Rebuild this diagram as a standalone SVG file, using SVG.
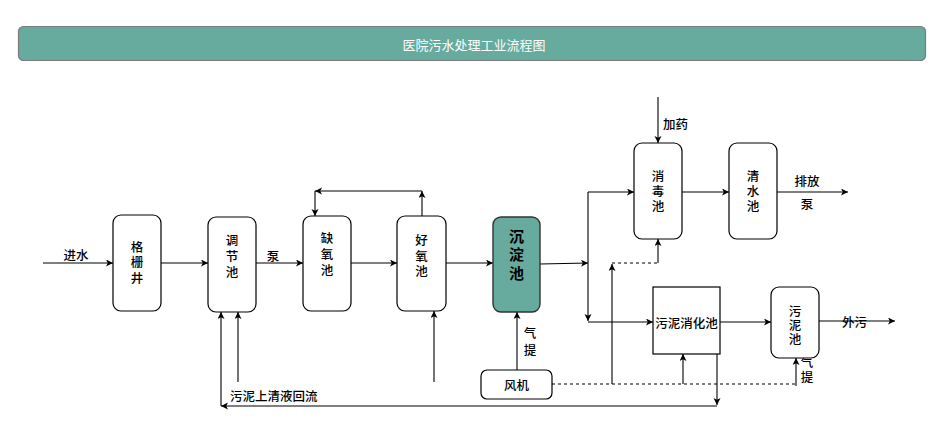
<svg xmlns="http://www.w3.org/2000/svg" width="948" height="443" viewBox="0 0 948 443">
<defs>
<marker id="arr" markerUnits="userSpaceOnUse" markerWidth="8" markerHeight="8" refX="7" refY="3.5" orient="auto">
<path d="M0,0 L7,3.5 L0,7 L1.8,3.5 z" fill="#000"/>
</marker>
</defs>
<style>
.node{fill:#fff;stroke:#000;stroke-width:1.2}
.t{font-family:"Noto Sans CJK SC","Noto Sans",sans-serif;font-size:12.5px;fill:#000;text-anchor:middle;dominant-baseline:central;font-weight:500}
.l{font-family:"Noto Sans CJK SC","Noto Sans",sans-serif;font-size:12.5px;fill:#000;dominant-baseline:central;font-weight:500}
.v{font-family:"Noto Sans CJK SC","Noto Sans",sans-serif;font-size:12.5px;fill:#000;text-anchor:middle;writing-mode:vertical-rl;font-weight:500;letter-spacing:3px}
.e{fill:none;stroke:#000;stroke-width:1.1}
.ea{fill:none;stroke:#000;stroke-width:1.1;marker-end:url(#arr)}
.d{fill:none;stroke:#000;stroke-width:1.1;stroke-dasharray:3 3}
</style>
<rect width="948" height="443" fill="#fff"/>
<g id="title">
<rect x="18.5" y="26.5" width="907" height="34" rx="5" fill="#67AB9F" stroke="#7a7a7a" stroke-width="1.2"/>
<text x="474" y="44" class="t" style="fill:#fff;font-weight:400;font-size:13px">医院污水处理工业流程图</text>
</g>
<g id="connectors">
<path class="ea" d="M43,263 H113"/>
<path class="ea" d="M161,263 H208"/>
<path class="ea" d="M256,263 H303"/>
<path class="ea" d="M351,263 H397"/>
<path class="ea" d="M446,263 H493"/>
<path class="ea" d="M540,264 L588,263"/>
<path class="ea" d="M588,192 V321"/>
<path class="ea" d="M588,192 H634"/>
<path class="ea" d="M588,322 H653"/>
<path class="ea" d="M658,97 V143"/>
<path class="ea" d="M682,192 H729"/>
<path class="ea" d="M777,192 H848"/>
<path class="ea" d="M720,322 H771"/>
<path class="ea" d="M819,321 H895"/>
<path class="d" d="M612,263 H658"/>
<path class="ea" d="M658,263 V239"/>
<path class="ea" d="M612,384 V264"/>
<path class="d" d="M552,384 H796"/>
<path class="ea" d="M683,384 V354"/>
<path class="ea" d="M796,386 V358"/>
<path class="ea" d="M717,354 V405"/>
<path class="ea" d="M717,406 H221"/>
<path class="ea" d="M221,406 V312"/>
<path class="ea" d="M238,382 V312"/>
<path class="ea" d="M434,382 V311"/>
<path class="ea" d="M517,370 V312"/>
<path class="ea" d="M422,216 V191"/>
<path class="ea" d="M422,191 H315"/>
<path class="ea" d="M315,191 V216"/>
</g>
<g id="labels">
<text class="t" x="76" y="254">进水</text>
<text class="t" x="273" y="255">泵</text>
<text class="l" x="663" y="123">加药</text>
<text class="t" x="807" y="180">排放</text>
<text class="t" x="807" y="203">泵</text>
<text class="l" x="842" y="321">外污</text>
<text class="v" x="530" y="344" style="letter-spacing:4.5px">气提</text>
<text class="v" x="807" y="371" style="letter-spacing:2.5px">气提</text>
<text class="l" x="230" y="395">污泥上清液回流</text>
</g>
<g id="n-grille">
<rect class="node" x="113" y="215" width="48" height="96" rx="8"/>
<text class="v" x="137" y="264">格栅井</text>
</g>
<g id="n-adjust">
<rect class="node" x="208" y="217" width="48" height="95" rx="8"/>
<text class="v" x="232" y="258" style="letter-spacing:3.5px">调节池</text>
</g>
<g id="n-anoxic">
<rect class="node" x="303" y="216" width="48" height="95" rx="8"/>
<text class="v" x="327" y="256" style="letter-spacing:3.5px">缺氧池</text>
</g>
<g id="n-aerobic">
<rect class="node" x="397" y="216" width="49" height="95" rx="8"/>
<text class="v" x="421.5" y="257.5" style="letter-spacing:3px">好氧池</text>
</g>
<g id="n-settle">
<rect x="493" y="217" width="47" height="95" rx="8" fill="#67AB9F" stroke="#333" stroke-width="1.4"/>
<text class="v" x="516.5" y="256.5" style="font-size:15px;font-weight:700;letter-spacing:3.5px">沉淀池</text>
</g>
<g id="n-blower">
<rect class="node" x="481" y="370" width="71" height="29" rx="6"/>
<text class="t" x="516.5" y="384.5">风机</text>
</g>
<g id="n-disinfect">
<rect class="node" x="634" y="143" width="48" height="96" rx="8"/>
<text class="v" x="658" y="192" style="letter-spacing:2.5px">消毒池</text>
</g>
<g id="n-clear">
<rect class="node" x="729" y="143" width="48" height="96" rx="8"/>
<text class="v" x="753" y="192" style="letter-spacing:2.5px">清水池</text>
</g>
<g id="n-digest">
<rect class="node" x="653" y="287" width="67" height="67"/>
<text class="t" x="686.5" y="322">污泥消化池</text>
</g>
<g id="n-sludge">
<rect class="node" x="771" y="287" width="48" height="71" rx="8"/>
<text class="v" x="795" y="326" style="letter-spacing:1.5px">污泥池</text>
</g>
</svg>
